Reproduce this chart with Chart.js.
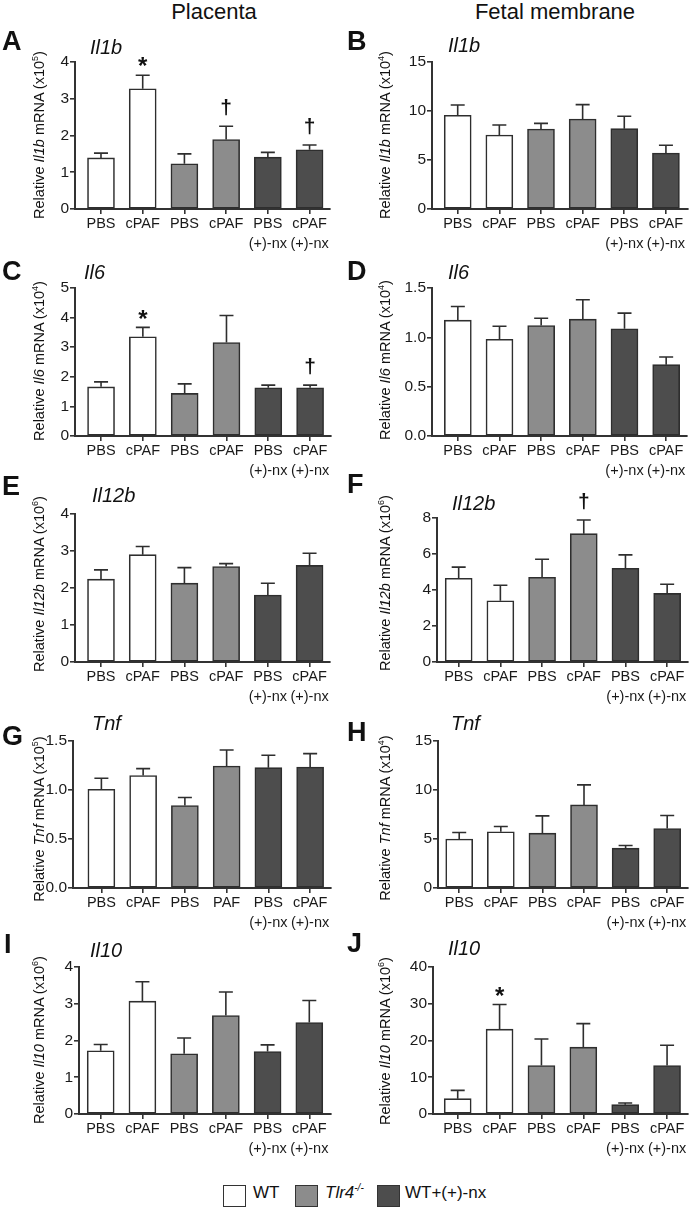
<!DOCTYPE html>
<html><head><meta charset="utf-8">
<script src="https://cdn.jsdelivr.net/npm/chart.js@4.4.1/dist/chart.umd.min.js"></script>
<style>
html,body{margin:0;padding:0;background:#fff;}
body{width:692px;height:1210px;position:relative;overflow:hidden;font-family:'Liberation Sans',Arial,Helvetica,sans-serif;color:#111;}
.abs{position:absolute;white-space:nowrap;line-height:1;}
.head{font-size:22px;transform:translate(-50%,-50%);}
.letter{font-size:27px;font-weight:bold;transform:translateY(-50%);}
.gene{font-size:20px;font-style:italic;transform:translateY(-50%);}
.ytitle{font-size:14.5px;transform:translate(-50%,-50%) rotate(-90deg);}
.ytitle sup{font-size:9px;vertical-align:6px;line-height:0;}
.lbox{width:21px;height:20px;border:1.6px solid #333;}
.ltxt{font-size:17px;transform:translateY(-50%);}
.ltxt sup{font-size:10px;vertical-align:7px;line-height:0;}
canvas{position:absolute;}
#charts{position:absolute;left:0;top:0;}
#texts{position:absolute;left:0;top:0;}
</style></head><body>
<div id="charts"></div>
<div id="texts">
  <div class="abs head" style="left:214px;top:12px">Placenta</div>
  <div class="abs head" style="left:555px;top:12px">Fetal membrane</div>

  <div class="abs letter" style="left:2px;top:41px">A</div>
  <div class="abs letter" style="left:347px;top:41px">B</div>
  <div class="abs letter" style="left:2px;top:271px">C</div>
  <div class="abs letter" style="left:347px;top:271px">D</div>
  <div class="abs letter" style="left:2px;top:486px">E</div>
  <div class="abs letter" style="left:347px;top:484px">F</div>
  <div class="abs letter" style="left:2px;top:736px">G</div>
  <div class="abs letter" style="left:347px;top:732px">H</div>
  <div class="abs letter" style="left:4px;top:944px">I</div>
  <div class="abs letter" style="left:347px;top:943px">J</div>

  <div class="abs gene" style="left:90px;top:47px">Il1b</div>
  <div class="abs gene" style="left:448px;top:45px">Il1b</div>
  <div class="abs gene" style="left:84px;top:272px">Il6</div>
  <div class="abs gene" style="left:448px;top:272px">Il6</div>
  <div class="abs gene" style="left:92px;top:495px">Il12b</div>
  <div class="abs gene" style="left:452px;top:503px">Il12b</div>
  <div class="abs gene" style="left:92px;top:723px">Tnf</div>
  <div class="abs gene" style="left:451px;top:723px">Tnf</div>
  <div class="abs gene" style="left:90px;top:950px">Il10</div>
  <div class="abs gene" style="left:448px;top:948px">Il10</div>

  <div class="abs ytitle" style="left:39px;top:135px">Relative <i>Il1b</i> mRNA (x10<sup>5</sup>)</div>
  <div class="abs ytitle" style="left:385px;top:135px">Relative <i>Il1b</i> mRNA (x10<sup>4</sup>)</div>
  <div class="abs ytitle" style="left:39px;top:361px">Relative <i>Il6</i> mRNA (x10<sup>4</sup>)</div>
  <div class="abs ytitle" style="left:385px;top:360px">Relative <i>Il6</i> mRNA (x10<sup>4</sup>)</div>
  <div class="abs ytitle" style="left:39px;top:584px">Relative <i>Il12b</i> mRNA (x10<sup>6</sup>)</div>
  <div class="abs ytitle" style="left:385px;top:583px">Relative <i>Il12b</i> mRNA (x10<sup>6</sup>)</div>
  <div class="abs ytitle" style="left:39px;top:819px">Relative <i>Tnf</i> mRNA (x10<sup>5</sup>)</div>
  <div class="abs ytitle" style="left:385px;top:818px">Relative <i>Tnf</i> mRNA (x10<sup>4</sup>)</div>
  <div class="abs ytitle" style="left:39px;top:1040px">Relative <i>Il10</i> mRNA (x10<sup>6</sup>)</div>
  <div class="abs ytitle" style="left:385px;top:1041px">Relative <i>Il10</i> mRNA (x10<sup>6</sup>)</div>

  <div class="abs lbox" style="left:223px;top:1185px;background:#ffffff"></div>
  <div class="abs ltxt" style="left:253px;top:1192px">WT</div>
  <div class="abs lbox" style="left:295px;top:1185px;background:#8c8c8c"></div>
  <div class="abs ltxt" style="left:325px;top:1192px"><i>Tlr4</i><sup><i>-/-</i></sup></div>
  <div class="abs lbox" style="left:377px;top:1185px;background:#4d4d4d"></div>
  <div class="abs ltxt" style="left:405px;top:1192px">WT+(+)-nx</div>
</div>
<script>
// ---------- DATA ----------
const xLabels  = [['PBS'], ['cPAF'], ['PBS'], ['cPAF'], ['PBS', '(+)-nx'], ['cPAF', '(+)-nx']];
const xLabelsG = [['PBS'], ['cPAF'], ['PBS'], ['PAF'],  ['PBS', '(+)-nx'], ['cPAF', '(+)-nx']];

const il1bPlacMean = [1.39, 3.27, 1.23, 1.89, 1.41, 1.61];
const il1bPlacSem  = [0.13, 0.37, 0.27, 0.36, 0.13, 0.13];
const il1bPlacSig  = [null, '*', null, '†', null, '†'];

const il1bFetMean = [9.56, 7.55, 8.16, 9.18, 8.20, 5.71];
const il1bFetSem  = [1.05, 1.02, 0.58, 1.47, 1.26, 0.79];

const il6PlacMean = [1.66, 3.35, 1.44, 3.16, 1.63, 1.63];
const il6PlacSem  = [0.17, 0.32, 0.32, 0.91, 0.09, 0.09];
const il6PlacSig  = [null, '*', null, null, null, '†'];

const il6FetMean = [1.174, 0.981, 1.12, 1.184, 1.086, 0.723];
const il6FetSem  = [0.139, 0.132, 0.074, 0.197, 0.159, 0.077];

const il12bPlacMean = [2.24, 2.90, 2.13, 2.58, 1.81, 2.61];
const il12bPlacSem  = [0.25, 0.22, 0.42, 0.08, 0.32, 0.33];

const il12bFetMean = [4.65, 3.40, 4.71, 7.13, 5.21, 3.81];
const il12bFetSem  = [0.62, 0.86, 1.00, 0.76, 0.74, 0.51];
const il12bFetSig  = [null, null, null, '†', null, null];

const tnfPlacMean = [1.008, 1.147, 0.842, 1.245, 1.228, 1.235];
const tnfPlacSem  = [0.112, 0.071, 0.081, 0.163, 0.126, 0.136];

const tnfFetMean = [4.99, 5.73, 5.60, 8.48, 4.07, 6.07];
const tnfFetSem  = [0.68, 0.55, 1.76, 2.04, 0.27, 1.33];

const il10PlacMean = [1.72, 3.07, 1.64, 2.68, 1.70, 2.49];
const il10PlacSem  = [0.17, 0.53, 0.43, 0.64, 0.18, 0.60];

const il10FetMean = [4.17, 23.1, 13.2, 18.2, 2.54, 13.2];
const il10FetSem  = [2.27, 6.7, 7.2, 6.4, 0.45, 5.5];
const il10FetSig  = [null, '*', null, null, null, null];

// ---------- STYLE / LAYOUT ----------
const barColors = ['#ffffff', '#ffffff', '#8c8c8c', '#8c8c8c', '#4d4d4d', '#4d4d4d'];
const FONT = "'Liberation Sans', Arial, Helvetica, sans-serif";
Chart.defaults.font.family = FONT;
Chart.defaults.color = '#1a1a1a';

const panels = [
  {mean: il1bPlacMean,  sem: il1bPlacSem,  sig: il1bPlacSig,  labels: xLabels,  yMax: 4,   yStep: 1,   dec: 0, geo: {ax: 75,    top: 62,  zero: 209,  right: 330, xmin: -0.623, xmax: 5.49}},
  {mean: il1bFetMean,   sem: il1bFetSem,   sig: null,         labels: xLabels,  yMax: 15,  yStep: 5,   dec: 0, geo: {ax: 432,   top: 62,  zero: 209,  right: 688, xmin: -0.617, xmax: 5.53}},
  {mean: il6PlacMean,   sem: il6PlacSem,   sig: il6PlacSig,   labels: xLabels,  yMax: 5,   yStep: 1,   dec: 0, geo: {ax: 75,    top: 288, zero: 436,  right: 331, xmin: -0.623, xmax: 5.5}},
  {mean: il6FetMean,    sem: il6FetSem,    sig: null,         labels: xLabels,  yMax: 1.5, yStep: 0.5, dec: 1, geo: {ax: 432,   top: 288, zero: 436,  right: 687, xmin: -0.62,  xmax: 5.5}},
  {mean: il12bPlacMean, sem: il12bPlacSem, sig: null,         labels: xLabels,  yMax: 4,   yStep: 1,   dec: 0, geo: {ax: 75,    top: 514, zero: 662,  right: 330, xmin: -0.623, xmax: 5.49}},
  {mean: il12bFetMean,  sem: il12bFetSem,  sig: il12bFetSig,  labels: xLabels,  yMax: 8,   yStep: 2,   dec: 0, geo: {ax: 437,   top: 518, zero: 662,  right: 688, xmin: -0.52,  xmax: 5.5}},
  {mean: tnfPlacMean,   sem: tnfPlacSem,   sig: null,         labels: xLabelsG, yMax: 1.5, yStep: 0.5, dec: 1, geo: {ax: 73,    top: 741, zero: 888,  right: 331, xmin: -0.68,  xmax: 5.5}},
  {mean: tnfFetMean,    sem: tnfFetSem,    sig: null,         labels: xLabels,  yMax: 15,  yStep: 5,   dec: 0, geo: {ax: 438,   top: 741, zero: 888,  right: 688, xmin: -0.51,  xmax: 5.5}},
  {mean: il10PlacMean,  sem: il10PlacSem,  sig: null,         labels: xLabels,  yMax: 4,   yStep: 1,   dec: 0, geo: {ax: 79,    top: 967, zero: 1114, right: 331, xmin: -0.52,  xmax: 5.52}},
  {mean: il10FetMean,   sem: il10FetSem,   sig: il10FetSig,   labels: xLabels,  yMax: 40,  yStep: 10,  dec: 0, geo: {ax: 433,   top: 967, zero: 1114, right: 688, xmin: -0.59,  xmax: 5.5}}
];

function errPlugin(p) {
  return {
    id: 'errbars',
    afterDatasetsDraw(chart) {
      const ctx = chart.ctx;
      const meta = chart.getDatasetMeta(0);
      const ys = chart.scales.y;
      ctx.save();
      ctx.strokeStyle = '#2e2e2e';
      ctx.lineWidth = 1.6;
      ctx.lineCap = 'butt';
      meta.data.forEach((bar, i) => {
        const top = ys.getPixelForValue(p.mean[i] + p.sem[i]);
        ctx.beginPath();
        ctx.moveTo(bar.x, bar.y);
        ctx.lineTo(bar.x, top);
        ctx.moveTo(bar.x - 7, top);
        ctx.lineTo(bar.x + 7, top);
        ctx.stroke();
        const s = p.sig ? p.sig[i] : null;
        if (s) {
          ctx.fillStyle = '#111';
          ctx.textAlign = 'center';
          ctx.textBaseline = 'alphabetic';
          if (s === '*') {
            const size = 24;
            ctx.font = 'bold ' + size + 'px ' + FONT;
            ctx.fillText(s, bar.x, top - 14 + 0.55 * size);
          } else {
            const size = 21;
            ctx.font = 'bold ' + size + 'px ' + FONT;
            ctx.fillText(s, bar.x, top - 18 + 0.27 * size);
          }
        }
      });
      ctx.restore();
    }
  };
}

const PADTOP = 28, YW = 60, XH = 52, PADR = 3;
panels.forEach(p => {
  const g = p.geo;
  const left = g.ax - YW;
  const top = g.top - PADTOP;
  const width = g.right + PADR - left;
  const height = g.zero - top + XH;
  const cv = document.createElement('canvas');
  cv.width = width; cv.height = height;
  cv.style.left = left + 'px'; cv.style.top = top + 'px';
  cv.style.width = width + 'px'; cv.style.height = height + 'px';
  document.getElementById('charts').appendChild(cv);
  new Chart(cv, {
    type: 'bar',
    data: {
      datasets: [{
        data: p.mean.map((v, i) => ({x: i, y: v})),
        backgroundColor: barColors,
        borderColor: '#2e2e2e',
        borderWidth: 1.6,
        borderSkipped: false,
        barThickness: 27
      }]
    },
    options: {
      responsive: false,
      animation: false,
      events: [],
      layout: {padding: {top: PADTOP, right: PADR, left: 0, bottom: 0}},
      plugins: {legend: {display: false}, tooltip: {enabled: false}},
      scales: {
        x: {
          type: 'linear',
          min: g.xmin, max: g.xmax,
          offset: false,
          afterBuildTicks: s => { s.ticks = p.labels.map((l, i) => ({value: i})); },
          afterFit: s => { s.height = XH; },
          ticks: {stepSize: 1, includeBounds: false, autoSkip: false, maxRotation: 0, minRotation: 0, padding: 0,
                  font: {size: 14.5, lineHeight: 1.4}, color: '#1a1a1a',
                  callback: v => p.labels[Math.round(v)]},
          grid: {display: true, drawOnChartArea: false, drawTicks: true, tickLength: 5, color: '#333', lineWidth: 1.6, offset: false},
          border: {display: true, color: '#333', width: 2}
        },
        y: {
          min: 0, max: p.yMax,
          afterFit: s => { s.width = YW; },
          ticks: {stepSize: p.yStep, padding: 1, font: {size: 15.5}, color: '#1a1a1a',
                  callback: v => Number(v).toFixed(p.dec)},
          grid: {drawOnChartArea: false, drawTicks: true, tickLength: 5, color: '#333', lineWidth: 1.6},
          border: {display: true, color: '#333', width: 2}
        }
      }
    },
    plugins: [errPlugin(p)]
  });
});
</script>
</body></html>
